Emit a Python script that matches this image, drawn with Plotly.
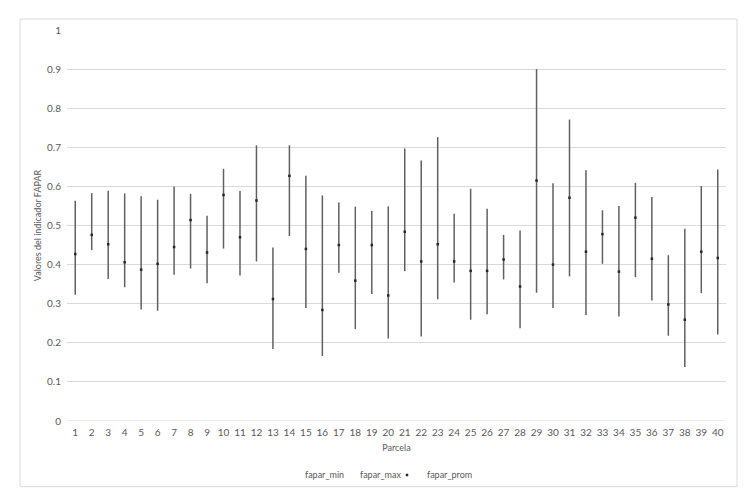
import plotly.graph_objects as go

parcelas = list(range(1, 41))

fapar_min = [0.323, 0.437, 0.363, 0.342, 0.285, 0.282, 0.374, 0.390, 0.352, 0.441,
             0.372, 0.408, 0.184, 0.473, 0.289, 0.166, 0.379, 0.235, 0.325, 0.211,
             0.383, 0.216, 0.311, 0.354, 0.259, 0.273, 0.362, 0.237, 0.328, 0.289,
             0.370, 0.271, 0.402, 0.267, 0.368, 0.308, 0.218, 0.138, 0.327, 0.221]

fapar_max = [0.563, 0.583, 0.589, 0.582, 0.575, 0.566, 0.600, 0.581, 0.525, 0.645,
             0.588, 0.705, 0.444, 0.705, 0.627, 0.577, 0.559, 0.548, 0.537, 0.549,
             0.697, 0.666, 0.726, 0.530, 0.594, 0.543, 0.476, 0.487, 0.900, 0.608,
             0.771, 0.641, 0.539, 0.550, 0.609, 0.573, 0.424, 0.492, 0.601, 0.643]

fapar_prom = [0.427, 0.476, 0.452, 0.406, 0.387, 0.402, 0.445, 0.514, 0.431, 0.578,
              0.470, 0.564, 0.312, 0.627, 0.440, 0.284, 0.450, 0.359, 0.450, 0.321,
              0.484, 0.408, 0.452, 0.408, 0.384, 0.384, 0.413, 0.344, 0.615, 0.400,
              0.571, 0.433, 0.478, 0.382, 0.520, 0.415, 0.298, 0.259, 0.433, 0.417]

y_ticks = [0, 0.1, 0.2, 0.3, 0.4, 0.5, 0.6, 0.7, 0.8, 0.9, 1]
y_tick_labels = ["0", "0.1", "0.2", "0.3", "0.4", "0.5", "0.6", "0.7", "0.8", "0.9", "1"]

# high-low lines built from min/max arrays
hl_x, hl_y = [], []
for p, lo, hi in zip(parcelas, fapar_min, fapar_max):
    hl_x += [p, p, None]
    hl_y += [lo, hi, None]

FONT = "Lato, 'Open Sans', sans-serif"
TXT = "#595959"
CLEAR = "rgba(0,0,0,0)"

fig = go.Figure()
fig.add_trace(go.Scatter(x=hl_x, y=hl_y, mode="lines",
                         line=dict(color="#606060", width=1.5),
                         showlegend=False, hoverinfo="skip"))
fig.add_trace(go.Scatter(x=parcelas, y=fapar_min, mode="markers", name="fapar_min",
                         legend="legend",
                         marker=dict(size=1, color=CLEAR, line=dict(width=0, color=CLEAR))))
fig.add_trace(go.Scatter(x=parcelas, y=fapar_max, mode="markers", name="fapar_max",
                         legend="legend2",
                         marker=dict(size=1, color=CLEAR, line=dict(width=0, color=CLEAR))))
fig.add_trace(go.Scatter(x=parcelas, y=fapar_prom, mode="markers", name="fapar_prom",
                         legend="legend3",
                         marker=dict(symbol="square", size=2.5, color="#262626")))

leg_common = dict(orientation="h", xanchor="left", y=-0.135, yanchor="middle",
                  font=dict(size=9, color=TXT), itemwidth=30,
                  bgcolor="rgba(0,0,0,0)")

fig.update_layout(
    width=747, height=492,
    margin=dict(l=59, r=29, t=22, b=78),
    paper_bgcolor="white", plot_bgcolor="white",
    font=dict(family=FONT, size=10, color=TXT),
    showlegend=True,
    legend=dict(x=(305 - 40 - 67) / 659, **leg_common),
    legend2=dict(x=(360 - 40 - 67) / 659, **leg_common),
    legend3=dict(x=(427 - 40 - 67) / 659, **leg_common),
    xaxis=dict(range=[0.5, 40.5], tickmode="array", tickvals=parcelas,
               ticktext=[str(p) for p in parcelas], showgrid=False, zeroline=False,
               showline=False, ticks="", tickangle=0, ticklabelstandoff=4,
               tickfont=dict(size=10, color=TXT),
               title=dict(text="Parcela", font=dict(size=9, color=TXT), standoff=7)),
    yaxis=dict(range=[0, 1], tickmode="array", tickvals=y_ticks, ticktext=y_tick_labels,
               showgrid=True, gridcolor="#d9d9d9", gridwidth=1, zeroline=False,
               showline=False, ticks="", ticklabelstandoff=5,
               tickfont=dict(size=10, color=TXT),
               title=dict(text="Valores del indicador FAPAR", font=dict(size=9, color=TXT),
                          standoff=3)),
    shapes=[dict(type="rect", xref="paper", yref="paper",
                 x0=-0.0713, x1=1.0167, y0=-0.168, y1=1.028,
                 line=dict(color="#d9d9d9", width=1), fillcolor="rgba(0,0,0,0)",
                 layer="below"),
            dict(type="line", xref="paper", yref="y", x0=0, x1=1, y0=0, y1=0,
                 line=dict(color="#d9d9d9", width=1), layer="below")],
)

fig.write_html("out.html")
